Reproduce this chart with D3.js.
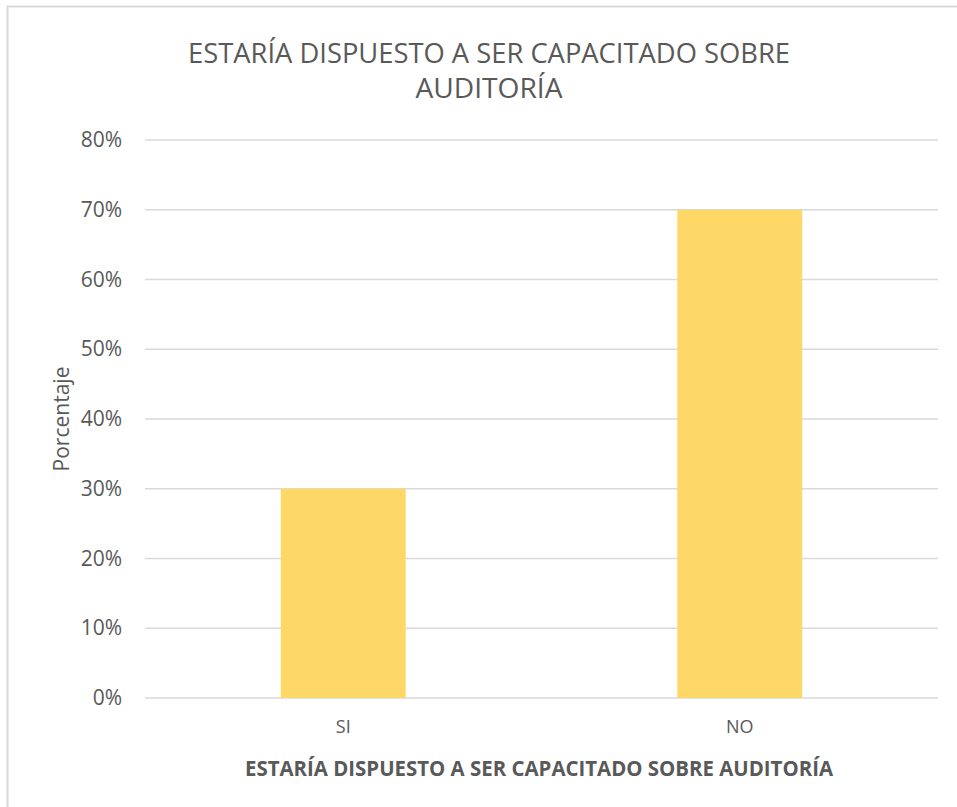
<!DOCTYPE html>
<html>
<head>
<meta charset="utf-8">
<script src="https://cdn.jsdelivr.net/npm/d3@7"></script>
<style>
  body { margin: 0; background: #fff; }
  svg { display: block; font-family: "Open Sans", "Noto Sans", sans-serif; }
</style>
</head>
<body>
<svg id="chart" width="957" height="807"></svg>
<script>
const categories = ["SI", "NO"];
const percentages = [0.30, 0.70];
const yTicks = [0, 0.1, 0.2, 0.3, 0.4, 0.5, 0.6, 0.7, 0.8];
const titleLines = ["ESTARÍA DISPUESTO A SER CAPACITADO SOBRE", "AUDITORÍA"];
const xTitle = "ESTARÍA DISPUESTO A SER CAPACITADO SOBRE AUDITORÍA";
const yTitle = "Porcentaje";

const width = 957, height = 807;
const margin = { top: 140, right: 19, bottom: 109, left: 145 };
const textColor = "#595959";

const svg = d3.select("#chart");

// chart area border (only left and top visible in the frame)
svg.append("path")
  .attr("d", `M7.5,${height} V6.5 H${width}`)
  .attr("fill", "none")
  .attr("stroke", "#d9d9d9")
  .attr("stroke-width", 2);

const x = d3.scaleBand()
  .domain(categories)
  .range([margin.left, width - margin.right])
  .paddingInner(0.685)
  .paddingOuter(0.3425);

const y = d3.scaleLinear()
  .domain([0, 0.8])
  .range([height - margin.bottom, margin.top]);

// gridlines
svg.append("g")
  .selectAll("line")
  .data(yTicks)
  .enter().append("line")
  .attr("x1", margin.left)
  .attr("x2", width - margin.right)
  .attr("y1", d => y(d))
  .attr("y2", d => y(d))
  .attr("stroke", "#d9d9d9")
  .attr("stroke-width", 1.5);

// y axis labels
const yAxis = svg.append("g")
  .attr("transform", `translate(${margin.left - 23},0)`)
  .call(d3.axisLeft(y).tickValues(yTicks).tickFormat(d3.format(".0%")).tickSize(0).tickPadding(0));
yAxis.select(".domain").remove();
yAxis.selectAll("text")
  .attr("fill", textColor)
  .attr("font-size", 21)
  .attr("font-family", "'Open Sans', sans-serif");

// bars
svg.append("g")
  .selectAll("rect")
  .data(percentages)
  .enter().append("rect")
  .attr("x", (d, i) => x(categories[i]))
  .attr("width", x.bandwidth())
  .attr("y", d => y(d))
  .attr("height", d => y(0) - y(d))
  .attr("fill", "#fdd866");

// x axis labels
const xAxis = svg.append("g")
  .attr("transform", `translate(0,${height - margin.bottom + 20})`)
  .call(d3.axisBottom(x).tickSize(0).tickPadding(0));
xAxis.select(".domain").remove();
xAxis.selectAll("text")
  .attr("fill", textColor)
  .attr("font-size", 18)
  .attr("font-family", "'Open Sans', sans-serif")
  .attr("dy", "0.82em");

// title
svg.append("g")
  .selectAll("text")
  .data(titleLines)
  .enter().append("text")
  .attr("x", 489)
  .attr("y", (d, i) => 63 + i * 35)
  .attr("text-anchor", "middle")
  .attr("fill", textColor)
  .attr("font-size", 28)
  .attr("font-weight", 400)
  .attr("textLength", (d, i) => i === 0 ? 602 : 147)
  .attr("lengthAdjust", "spacingAndGlyphs")
  .text(d => d);

// x axis title
svg.append("text")
  .attr("x", 539)
  .attr("y", 776)
  .attr("text-anchor", "middle")
  .attr("fill", textColor)
  .attr("font-size", 21)
  .attr("font-weight", 700)
  .attr("textLength", 588)
  .attr("lengthAdjust", "spacingAndGlyphs")
  .text(xTitle);

// y axis title
svg.append("text")
  .attr("transform", "translate(69,419) rotate(-90)")
  .attr("text-anchor", "middle")
  .attr("fill", textColor)
  .attr("font-size", 21)
  .text(yTitle);
</script>
</body>
</html>
